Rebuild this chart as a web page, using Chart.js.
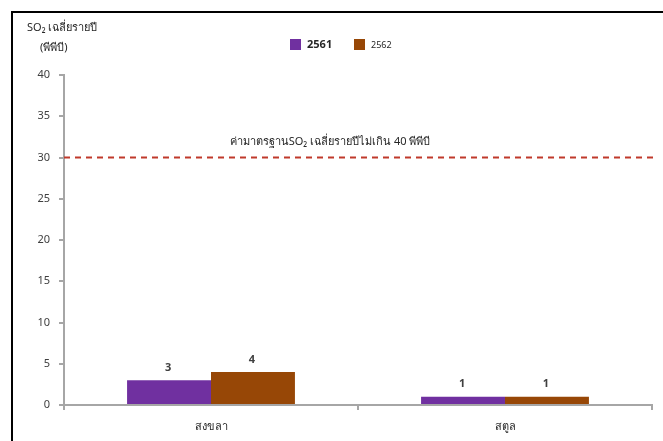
<!DOCTYPE html>
<html>
<head>
<meta charset="utf-8">
<script src="https://cdn.jsdelivr.net/npm/chart.js@4"></script>
<style>
  html, body { margin: 0; padding: 0; background: #fff; }
  #wrap { width: 663px; height: 441px; position: relative; }
</style>
</head>
<body>
<div id="wrap"><canvas id="chart" width="663" height="441"></canvas></div>
<script>
const provinces = ['สงขลา', 'สตูล']
const years = ['2561', '2562']
const values2561 = [3, 1]
const values2562 = [4, 1]
const yTicks = [0, 5, 10, 15, 20, 25, 30, 35, 40]
const standardValue = 30
const standardLabel = 'ค่ามาตรฐานSO₂ เฉลี่ยรายปีไม่เกิน 40 พีพีบี'
const yTitle = ['SO₂ เฉลี่ยรายปี', '(พีพีบี)']

const FONT = "'Noto Sans', 'DejaVu Sans', sans-serif"

// frame, titles, legend, standard line, value labels
const extras = {
  id: 'extras',
  afterDatasetsDraw(chart) {
    const ctx = chart.ctx
    const y = chart.scales.y
    const area = chart.chartArea

    // dashed standard line
    const ly = y.getPixelForValue(standardValue)
    ctx.save()
    ctx.strokeStyle = '#c0392b'
    ctx.lineWidth = 2
    ctx.setLineDash([6, 5])
    ctx.beginPath()
    ctx.moveTo(area.left, ly)
    ctx.lineTo(area.right + 4, ly)
    ctx.stroke()
    ctx.restore()

    ctx.save()
    ctx.fillStyle = '#262626'
    ctx.font = '11px ' + FONT
    ctx.textAlign = 'center'
    ctx.textBaseline = 'middle'
    ctx.fillText(standardLabel, 330, 142)
    ctx.restore()

    // value labels above bars
    ctx.save()
    ctx.fillStyle = '#404040'
    ctx.font = 'bold 11px ' + FONT
    ctx.textAlign = 'center'
    ctx.textBaseline = 'bottom'
    chart.data.datasets.forEach((ds, i) => {
      chart.getDatasetMeta(i).data.forEach((bar, j) => {
        ctx.fillText(String(ds.data[j]), bar.x - 1, bar.y - 7)
      })
    })
    ctx.restore()
  },
  beforeDraw(chart) {
    const ctx = chart.ctx
    ctx.save()
    ctx.strokeStyle = '#000'
    ctx.lineWidth = 2
    ctx.beginPath()
    ctx.moveTo(12, 441)
    ctx.lineTo(12, 12)
    ctx.lineTo(663, 12)
    ctx.stroke()

    // axis title
    ctx.fillStyle = '#262626'
    ctx.font = '11px ' + FONT
    ctx.textBaseline = 'middle'
    ctx.fillText(yTitle[0], 27, 28)
    ctx.fillText(yTitle[1], 40, 48)

    // legend
    const legendX = [290, 354]
    chart.data.datasets.forEach((ds, i) => {
      ctx.fillStyle = ds.backgroundColor
      ctx.fillRect(legendX[i], 39, 11, 11)
      ctx.fillStyle = '#262626'
      ctx.font = (i === 0 ? 'bold 11px ' : '9px ') + FONT
      ctx.fillText(ds.label, legendX[i] + 17, 45)
    })
    ctx.restore()
  }
}

new Chart(document.getElementById('chart'), {
  type: 'bar',
  data: {
    labels: provinces,
    datasets: [
      { label: years[0], data: values2561, backgroundColor: '#7030a0' },
      { label: years[1], data: values2562, backgroundColor: '#974706' }
    ]
  },
  options: {
    responsive: false,
    animation: false,
    layout: { padding: { left: 12, right: 11, top: 75, bottom: 0 } },
    datasets: { bar: { categoryPercentage: 0.571, barPercentage: 1 } },
    plugins: { legend: { display: false }, tooltip: { enabled: false } },
    scales: {
      x: {
        grid: { offset: true, drawOnChartArea: false, tickLength: 5, color: '#a6a6a6', lineWidth: 2 },
        border: { color: '#a6a6a6', width: 2 },
        ticks: { color: '#262626', font: { family: FONT, size: 11 }, padding: 10 },
        afterFit: s => { s.height = 36 }
      },
      y: {
        min: 0,
        max: 40,
        afterBuildTicks: s => { s.ticks = yTicks.map(v => ({ value: v })) },
        grid: { drawOnChartArea: false, tickLength: 5, color: '#a6a6a6', lineWidth: 2 },
        border: { color: '#a6a6a6', width: 2 },
        ticks: { color: '#404040', font: { family: FONT, size: 11 }, padding: 9 },
        afterFit: s => { s.width = 52 }
      }
    }
  },
  plugins: [extras]
})
</script>
</body>
</html>
